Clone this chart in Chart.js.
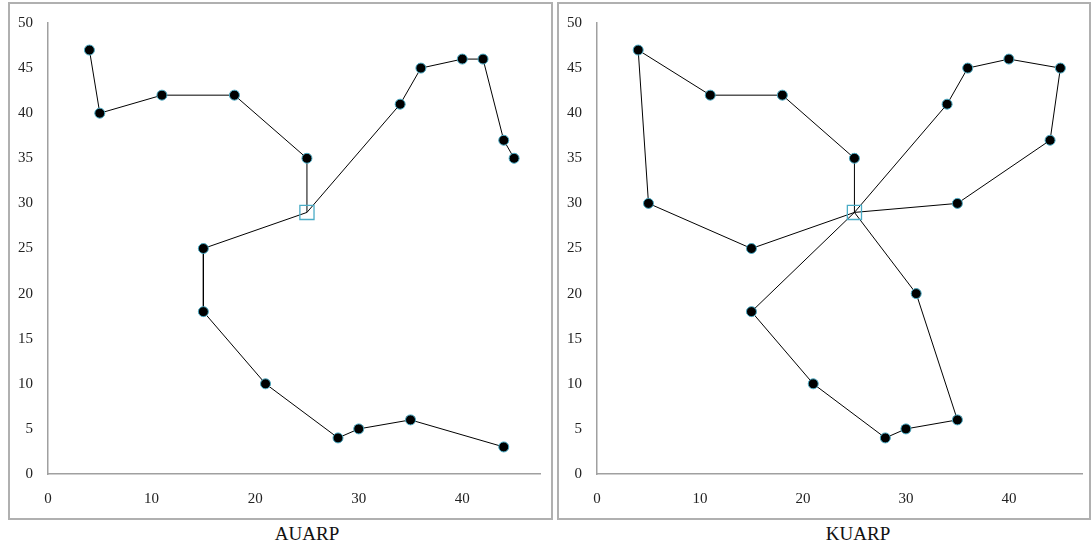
<!DOCTYPE html>
<html>
<head>
<meta charset="utf-8">
<script src="https://cdn.jsdelivr.net/npm/chart.js"></script>
<style>
  body { margin: 0; background: #fff; width: 1092px; height: 551px; position: relative; overflow: hidden; }
  .panel { position: absolute; box-sizing: border-box; border: 2px solid #b0b0b0; }
  canvas { position: absolute; }
  .caption { position: absolute; font-family: "Liberation Serif", serif; font-size: 19px; color: #111; transform: translateX(-50%); }
</style>
</head>
<body>
<div class="panel" style="left:8px;top:2px;width:545px;height:518px"></div>
<div class="panel" style="left:557px;top:2px;width:534px;height:518px"></div>
<canvas id="auarp" width="544" height="517" style="left:8px;top:2px"></canvas>
<canvas id="kuarp" width="533" height="517" style="left:557px;top:2px"></canvas>
<div class="caption" style="left:307px;top:523px">AUARP</div>
<div class="caption" style="left:858px;top:523px">KUARP</div>
<script>
// Depot
let depotX = [25], depotY = [29];

// AUARP routes (open, starting at depot)
let auarpX1 = [25, 25, 18, 11, 5, 4],
  auarpY1 = [29, 35, 42, 42, 40, 47],
  auarpX2 = [25, 34, 36, 40, 42, 44, 45],
  auarpY2 = [29, 41, 45, 46, 46, 37, 35],
  auarpX3 = [25, 15, 15, 21, 28, 30, 35, 44],
  auarpY3 = [29, 25, 18, 10, 4, 5, 6, 3];

// KUARP routes (closed, start and end at depot)
let kuarpX1 = [25, 25, 18, 11, 4, 5, 15, 25],
  kuarpY1 = [29, 35, 42, 42, 47, 30, 25, 29],
  kuarpX2 = [25, 34, 36, 40, 45, 44, 35, 25],
  kuarpY2 = [29, 41, 45, 46, 45, 37, 30, 29],
  kuarpX3 = [25, 15, 21, 28, 30, 35, 31, 25],
  kuarpY3 = [29, 18, 10, 4, 5, 6, 20, 29];

let xTicks = [0, 10, 20, 30, 40],
  yTicks = [0, 5, 10, 15, 20, 25, 30, 35, 40, 45, 50];

function toPoints(xs, ys) {
  return xs.map((x, i) => ({ x: x, y: ys[i] }));
}

function isDepot(c) {
  let p = c.raw;
  return p && p.x === depotX[0] && p.y === depotY[0];
}

function routeDataset(xs, ys) {
  return {
    data: toPoints(xs, ys),
    showLine: true,
    borderColor: '#000',
    borderWidth: 1,
    pointRadius: c => isDepot(c) ? 0 : 5,
    pointHoverRadius: c => isDepot(c) ? 0 : 5,
    pointBackgroundColor: '#000',
    pointBorderColor: '#4bacc6',
    pointBorderWidth: 1
  };
}

function depotDataset() {
  return {
    data: toPoints(depotX, depotY),
    pointStyle: 'rect',
    pointRadius: 10,
    pointHoverRadius: 10,
    backgroundColor: 'rgba(0,0,0,0)',
    borderColor: '#4bacc6',
    borderWidth: 1.3
  };
}

let tickFont = { family: '"Liberation Serif", serif', size: 15 };

function makeChart(id, routes, xMax, padRight) {
  let datasets = [depotDataset()];
  routes.forEach(r => datasets.push(routeDataset(r[0], r[1])));
  return new Chart(document.getElementById(id).getContext('2d'), {
    type: 'scatter',
    data: { datasets: datasets },
    options: {
      responsive: false,
      animation: false,
      layout: { autoPadding: false, padding: { left: 0, top: 21, right: padRight, bottom: 0 } },
      plugins: { legend: { display: false }, tooltip: { enabled: false } },
      scales: {
        x: {
          type: 'linear',
          min: 0,
          max: xMax,
          afterFit: s => { s.height = 45; s.paddingLeft = 0; s.paddingRight = 0; },
          afterBuildTicks: s => { s.ticks = xTicks.map(v => ({ value: v })); },
          grid: { display: false, drawTicks: false },
          border: { display: true, color: '#a0a0a0', width: 1.5 },
          ticks: { font: tickFont, color: '#222', padding: 16, maxRotation: 0 }
        },
        y: {
          type: 'linear',
          min: 0,
          max: 50,
          afterFit: s => { s.width = 40; s.paddingTop = 0; s.paddingBottom = 0; },
          afterBuildTicks: s => { s.ticks = yTicks.map(v => ({ value: v })); },
          grid: { display: false, drawTicks: false },
          border: { display: true, color: '#a0a0a0', width: 1.5 },
          ticks: { font: tickFont, color: '#222', padding: 15 }
        }
      }
    }
  });
}

makeChart('auarp', [[auarpX1, auarpY1], [auarpX2, auarpY2], [auarpX3, auarpY3]], 47.5, 12);
makeChart('kuarp', [[kuarpX1, kuarpY1], [kuarpX2, kuarpY2], [kuarpX3, kuarpY3]], 47.1, 8);
</script>
</body>
</html>
